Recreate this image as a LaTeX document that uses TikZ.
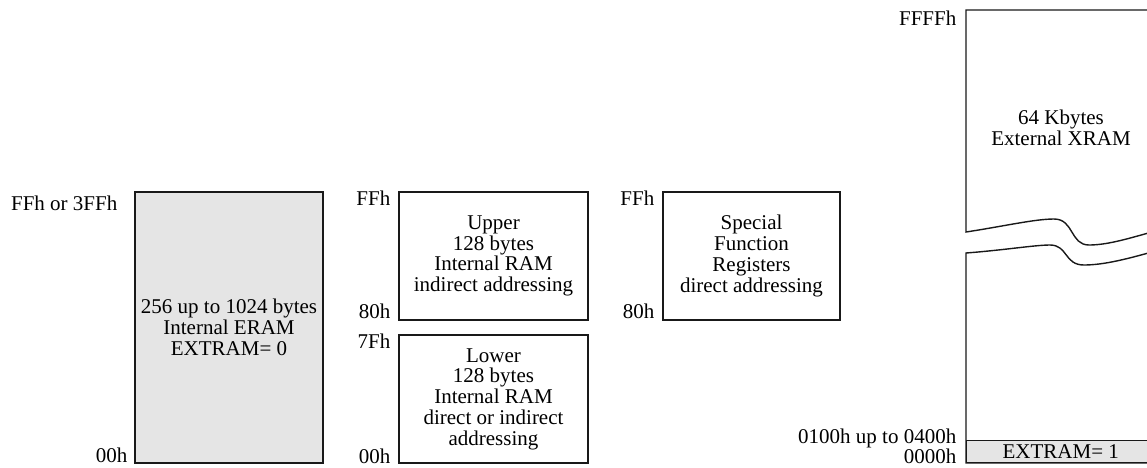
\documentclass[tikz,border=0pt]{standalone}
\usepackage{fontspec}
\setmainfont{Liberation Serif}
\newcommand\memfont{\fontsize{21}{20.7}\selectfont}
\begin{document}
\begin{tikzpicture}[x=1pt,y=-1pt,line width=1.4pt,
  mem/.style={draw=black!90,inner sep=0pt,align=center,font=\memfont},
  lbl/.style={anchor=base east,inner sep=0pt,font=\memfont},
  txt/.style={inner sep=0pt,align=center,font=\memfont},
  shade/.style={fill=black!10}]
\useasboundingbox (0,0) rectangle (1147,467);
\clip (0,0) rectangle (1147,467);
% ERAM
\node[mem,shade,minimum width=188,minimum height=271] (eram) at (229,327.5)
  {256 up to 1024 bytes\\Internal ERAM\\EXTRAM= 0};
\node[lbl] (eramtop) at (118,210) {FFh or 3FFh};
\node[lbl] (erambot) at (128,462) {00h};
% Upper / Lower internal RAM
\node[mem,minimum width=189,minimum height=128] (upper) at (493.5,256)
  {Upper\\128 bytes\\Internal RAM\\indirect addressing};
\node[mem,minimum width=189,minimum height=128] (lower) at (493.5,399)
  {Lower\\128 bytes\\Internal RAM\\direct or indirect\\addressing};
\node[lbl] (uptop) at (391,205) {FFh};
\node[lbl] (upbot) at (391,318) {80h};
\node[lbl] (lotop) at (391,348) {7Fh};
\node[lbl] (lobot) at (391,463) {00h};
% SFR
\node[mem,minimum width=177,minimum height=128] (sfr) at (751.5,256)
  {Special\\Function\\Registers\\direct addressing};
\node[lbl] (sfrtop) at (655,205) {FFh};
\node[lbl] (sfrbot) at (655,318) {80h};
% XRAM
\coordinate (xtl) at (966,10);
\coordinate (xtr) at (1160,10);
\coordinate (xbl) at (966,463);
\coordinate (xbr) at (1160,463);
\draw[draw=black!90] (xtr) -- (xtl) -- (966,232)
  .. controls (1005,226) and (1035,219) .. (1054,219)
  .. controls (1074,219) and (1070,245) .. (1089,245)
  .. controls (1108,245) and (1130,238) .. (1152,232);
\draw[draw=black!90] (1152,252)
  .. controls (1130,258) and (1105,265) .. (1084,265)
  .. controls (1064,265) and (1068,245) .. (1050,245)
  .. controls (1035,245) and (1005,250) .. (966,253)
  -- (xbl) -- (xbr);
\node[mem,shade,minimum width=188,minimum height=22,anchor=south west] (extram) at (xbl)
  {EXTRAM= 1};
\node[txt] (xram) at (1061,128) {64 Kbytes\\External XRAM};
\node[lbl] (xtop) at (957,25) {FFFFh};
\node[lbl] (xmid) at (957,443) {0100h up to 0400h};
\node[lbl] (xbot) at (957,463) {0000h};
\end{tikzpicture}
\end{document}
